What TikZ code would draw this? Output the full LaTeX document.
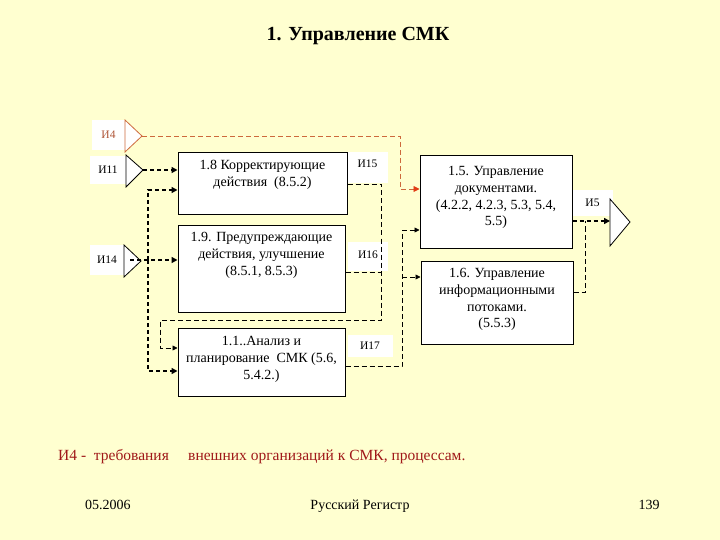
\documentclass[tikz,border=0pt]{standalone}
\usepackage{fontspec}
\setmainfont{Liberation Serif}
\newfontfamily\tms{Liberation Serif}
\usetikzlibrary{arrows.meta}
\definecolor{bgyel}{RGB}{255,255,208}
\definecolor{brownln}{RGB}{205,105,60}
\definecolor{brownhd}{RGB}{225,60,20}
\definecolor{brownlbl}{RGB}{175,85,55}
\definecolor{darkred}{RGB}{160,25,25}
\begin{document}
\begin{tikzpicture}[x=1pt,y=-1pt,
  box/.style={draw, line width=1pt, fill=white, inner sep=0pt},
  btext/.style={anchor=north, align=center, font=\tms\fontsize{14}{16.8}\selectfont, inner sep=0pt},
  lbl/.style={fill=white, inner sep=0pt, font=\tms\fontsize{11.5}{13}\selectfont},
  thk/.style={line width=1.6pt, dash pattern=on 4pt off 3pt},
  thn/.style={line width=0.8pt, dash pattern=on 5pt off 3pt},
  tipk/.style={-{Triangle[length=6pt,width=6pt]}},
  tipn/.style={-{Triangle[length=5pt,width=5pt]}},
  tri/.style={draw, fill=white, line width=0.8pt},
  foot/.style={font=\tms\fontsize{14}{16}\selectfont, inner sep=0pt, anchor=base}
]
\useasboundingbox (0,0) rectangle (720,540);
\fill[bgyel] (0,0) rectangle (720,540);

% title
\node[font=\tms\fontsize{20}{24}\selectfont\bfseries, inner sep=0pt] (title) at (358,36) {1. Управление СМК};

% labels
\node[lbl, minimum width=33pt, minimum height=30pt] (l4) at (108.5,135) {\textcolor{brownlbl}{И4}};
\node[lbl, minimum width=36pt, minimum height=28pt] (l11) at (108,170) {И11};
\node[lbl, minimum width=34pt, minimum height=30pt] (l14) at (107,260) {И14};
\node[lbl, minimum width=41pt, minimum height=31pt] (l15) at (367.5,167.5) {\raisebox{8pt}{И15}};
\node[lbl, minimum width=40pt, minimum height=29pt] (l16) at (368,256.5) {\raisebox{4pt}{И16}};
\node[lbl, minimum width=45pt, minimum height=22pt] (l17) at (370,345.5) {И17};
\node[lbl, minimum width=41pt, minimum height=26pt] (l5) at (592.5,203) {И5};

% triangles
\draw[tri, draw=brownln] (125,120) -- (142,136) -- (125,152) -- cycle;
\coordinate (t4) at (142,136);
\draw[tri] (126,155) -- (143,170) -- (126,187) -- cycle;
\coordinate (t11) at (143,170);
\draw[tri] (124,245) -- (141,261) -- (124,277) -- cycle;
\coordinate (t14) at (130,260);
\draw[tri] (610,199) -- (630,222) -- (610,246) -- cycle;
\coordinate (t5) at (610,221);

% boxes
\node[box, minimum width=169pt, minimum height=62pt] (b18) at (262.5,184) {};
\node[btext] (x18) at (262.5,160) {1.8 Корректирующие\\действия \ (8.5.2)};
\node[box, minimum width=167pt, minimum height=86pt] (b19) at (261.5,269) {};
\node[btext] (x19) at (261.5,232) {1.9. Предупреждающие\\действия, улучшение\\(8.5.1, 8.5.3)};
\node[box, minimum width=167pt, minimum height=68pt] (b11) at (261.5,362) {};
\node[btext] (x11) at (261.5,336.5) {1.1..Анализ и\\планирование \ СМК (5.6,\\5.4.2.)};
\node[box, minimum width=152pt, minimum height=92pt] (b15) at (496,202) {};
\node[btext] (x15) at (496,166) {1.5. Управление\\документами.\\(4.2.2, 4.2.3, 5.3, 5.4,\\5.5)};
\node[box, minimum width=152pt, minimum height=83pt] (b16) at (497,302.5) {};
\node[btext] (x16) at (497,268) {1.6. Управление\\информационными\\потоками.\\(5.5.3)};

% connectors
\coordinate (j4) at (400,136);
\draw[line width=0.9pt, brownln, dash pattern=on 5pt off 3pt, -{Triangle[length=6pt,width=6pt,color=brownhd]}]
  (t4) -- (j4) |- (b15.west |- 0,189);

\draw[thk, tipk] (t11) -- (b18.west |- 0,170);
\draw[thk, tipk] (t14) -- (b19.west |- 0,260);
\coordinate (j14) at (148,260);
\draw[thk, tipk] (j14) |- (b18.west |- 0,190);
\draw[thk, tipk] (j14) |- (b11.west |- 0,371);

\coordinate (j15) at (381,184);
\coordinate (j15b) at (381,320);
\coordinate (j15c) at (160,320);
\draw[thn, tipn] (b18.east |- 0,184) -- (j15) -- (j15b) -- (j15c) |- (b11.west |- 0,348);
\draw[thn] (b19.east |- 0,272) -- (381,272);

\coordinate (j17) at (402,366);
\draw[thn, tipn] (b11.east |- 0,366) -- (j17) |- (b15.west |- 0,230);
\draw[thn, tipn] (402,277) -- (b16.west |- 0,277);

\draw[thk, tipk] (b15.east |- 0,221) -- (t5);
\draw[thn] (b16.east |- 0,292) -| (585,221);

% note
\node[anchor=west, inner sep=0pt, font=\tms\fontsize{15.5}{18}\selectfont, text=darkred] (n1) at (58,457) {И4 - \ требования};
\node[anchor=west, inner sep=0pt, font=\tms\fontsize{15.5}{18}\selectfont, text=darkred] (n2) at (188,457) {внешних организаций к СМК, процессам.};

% footer
\node[foot, anchor=base west] (f1) at (85,509) {05.2006};
\node[foot] (f2) at (360,509) {Русский Регистр};
\node[foot] (f3) at (649,509) {139};
\end{tikzpicture}
\end{document}
